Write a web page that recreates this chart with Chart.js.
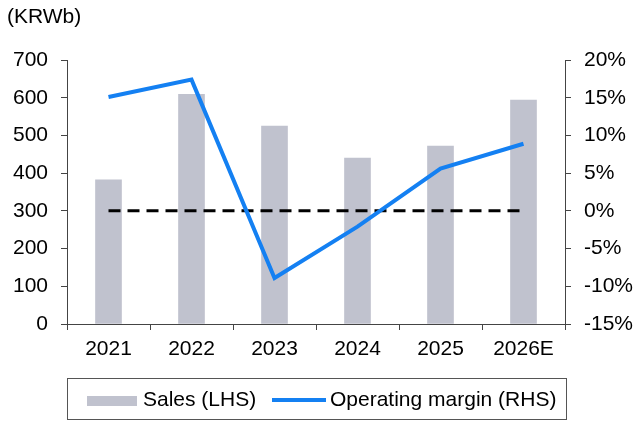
<!DOCTYPE html>
<html>
<head>
<meta charset="utf-8">
<script src="https://cdn.jsdelivr.net/npm/chart.js@4.4.1/dist/chart.umd.min.js"></script>
<style>
  body { margin: 0; background: #fff; font-family: "Liberation Sans", Arial, sans-serif; }
  #wrap { position: relative; width: 635px; height: 422px; }
  #unidad { position: absolute; left: 7px; top: 4px; font-size: 21px; color: #000; }
  #leyenda { position: absolute; left: 67px; top: 378px; width: 500px; height: 42px; border: 1px solid #555; box-sizing: border-box; font-size: 21px; }
  .item { position: absolute; top: 8px; }
  .caja { position: absolute; left: 19px; top: 17px; width: 50px; height: 10px; background: #C0C2CE; }
  .linea { position: absolute; left: 204px; top: 19px; width: 54px; height: 4px; background: #1480F2; }
</style>
</head>
<body>
<div id="wrap">
  <canvas id="grafico" width="635" height="422"></canvas>
  <div id="unidad">(KRWb)</div>
  <div id="leyenda">
    <div class="caja"></div>
    <div class="item" style="left:75px">Sales (LHS)</div>
    <div class="linea"></div>
    <div class="item" style="left:262px">Operating margin (RHS)</div>
  </div>
</div>
<script>
// Datos del grafico
const anios = ['2021', '2022', '2023', '2024', '2025', '2026E'];
const ventas = [382, 609, 525, 440, 472, 594];
const margenOperativo = [15.1, 17.4, -8.9, -2.1, 5.6, 8.9];
const lineaCero = [0, 0, 0, 0, 0, 0];

const colorEje = '#444';
const fuente = { family: '"Liberation Sans", Arial, sans-serif', size: 21 };

new Chart(document.getElementById('grafico'), {
    data: {
        labels: anios,
        datasets: [
            {
                type: 'line',
                label: 'Operating margin (RHS)',
                data: margenOperativo,
                yAxisID: 'y2',
                borderColor: '#1480F2',
                borderWidth: 4,
                pointRadius: 0,
                tension: 0,
                order: 0
            },
            {
                type: 'line',
                label: 'cero',
                data: lineaCero,
                yAxisID: 'y2',
                borderColor: '#000',
                borderWidth: 3,
                borderDash: [12, 7],
                pointRadius: 0,
                order: 1
            },
            {
                type: 'bar',
                label: 'Sales (LHS)',
                data: ventas,
                yAxisID: 'y',
                backgroundColor: '#C0C2CE',
                barThickness: 26,
                order: 2
            }
        ]
    },
    options: {
        responsive: false,
        animation: false,
        layout: { padding: { top: 60, left: 0, right: 0, bottom: 58 } },
        plugins: { legend: { display: false }, tooltip: { enabled: false } },
        scales: {
            x: {
                offset: true,
                grid: { offset: true, drawOnChartArea: false, drawTicks: true, tickLength: 6, color: colorEje },
                border: { color: colorEje },
                ticks: { color: '#000', font: fuente, padding: 7, maxRotation: 0 },
                afterFit: (s) => { s.height = 40; }
            },
            y: {
                position: 'left',
                min: 0, max: 700,
                grid: { drawOnChartArea: false, tickLength: 6, color: colorEje },
                border: { color: colorEje },
                ticks: { stepSize: 100, color: '#000', font: fuente, padding: 13 },
                afterFit: (s) => { s.width = 67; }
            },
            y2: {
                position: 'right',
                min: -15, max: 20,
                grid: { drawOnChartArea: false, tickLength: 6, color: colorEje },
                border: { color: colorEje },
                ticks: { stepSize: 5, color: '#000', font: fuente, padding: 13, callback: (v) => v + '%' },
                afterFit: (s) => { s.width = 70; }
            }
        }
    }
});
</script>
</body>
</html>
